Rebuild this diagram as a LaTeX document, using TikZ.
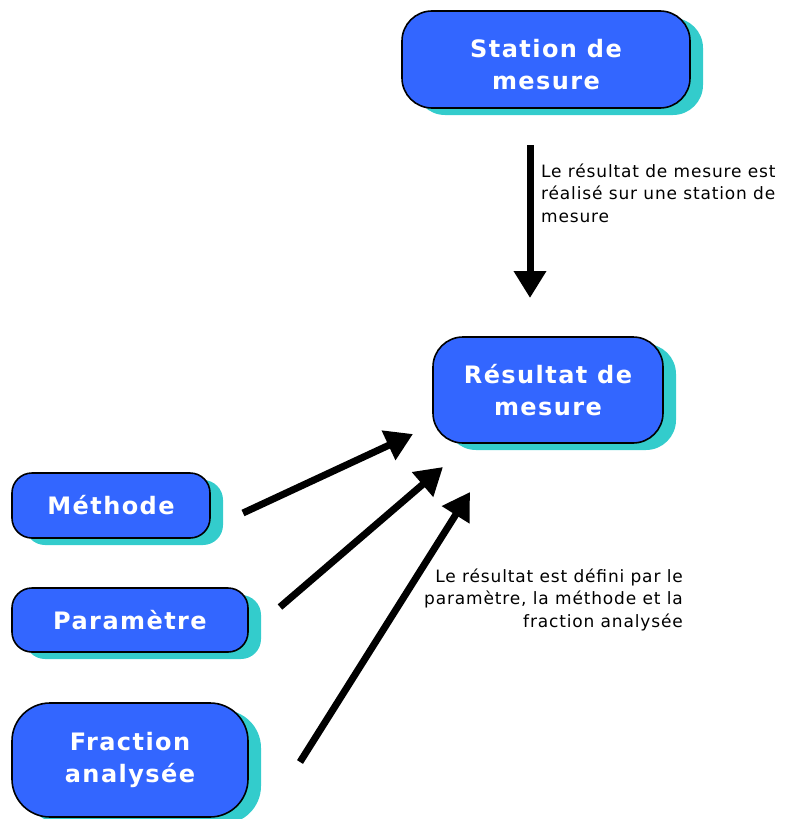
\documentclass[tikz,border=0pt]{standalone}
\usepackage{fontspec}
\setmainfont{DejaVu Sans}
\usetikzlibrary{arrows.meta,shadows}
\definecolor{boxblue}{HTML}{3366FF}
\definecolor{shadowteal}{HTML}{33CCCC}
\tikzset{
  boxnode/.style={draw=black, line width=1.6pt, fill=boxblue, text=white,
    font=\fontsize{24}{32.5}\selectfont\bfseries\addfontfeature{LetterSpace=6}, align=center, inner sep=0pt,
    general shadow={fill=shadowteal, shadow xshift=13pt, shadow yshift=-7pt}},
  bigarrow/.style={line width=7pt, -{Triangle[length=27pt,width=31pt]}},
  note/.style={font=\fontsize{17}{22.5}\selectfont\addfontfeature{LetterSpace=5}, inner sep=0pt, text=black}
}
\begin{document}
\begin{tikzpicture}[x=1pt,y=-1pt]
\useasboundingbox (0,0) rectangle (785,819);
\node[boxnode, minimum width=288pt, minimum height=97pt, rounded corners=30pt, text height=61pt] (station) at (546,59.5) {Station de\\mesure};
\node[boxnode, minimum width=230pt, minimum height=106pt, rounded corners=30pt] (resultat) at (548,390) {Résultat de\\mesure};
\node[boxnode, minimum width=198pt, minimum height=65pt, rounded corners=20pt] (methode) at (111,505.5) {Méthode};
\node[boxnode, minimum width=236pt, minimum height=64pt, rounded corners=20pt] (parametre) at (130,620) {Paramètre};
\node[boxnode, minimum width=236pt, minimum height=114pt, rounded corners=38pt] (fraction) at (130,760) {Fraction\\analysée};

\coordinate (s1) at (530,145);
\coordinate (r1) at (530,298);
\coordinate (m1) at (243,513);
\coordinate (m2) at (413,434);
\coordinate (p1) at (280,607);
\coordinate (p2) at (443,467);
\coordinate (f1) at (300,762);
\coordinate (f2) at (470,492);
\draw[bigarrow] (s1) -- (r1);
\draw[bigarrow] (m1) -- (m2);
\draw[bigarrow] (p1) -- (p2);
\draw[bigarrow] (f1) -- (f2);

\node[note, anchor=base west, align=left] (t1) at (541,222) {Le résultat de mesure est\\réalisé sur une station de\\mesure};
\node[note, anchor=base east, align=right] (t2) at (683,627) {Le résultat est défini par le\\paramètre, la méthode et la\\fraction analysée};
\end{tikzpicture}
\end{document}
